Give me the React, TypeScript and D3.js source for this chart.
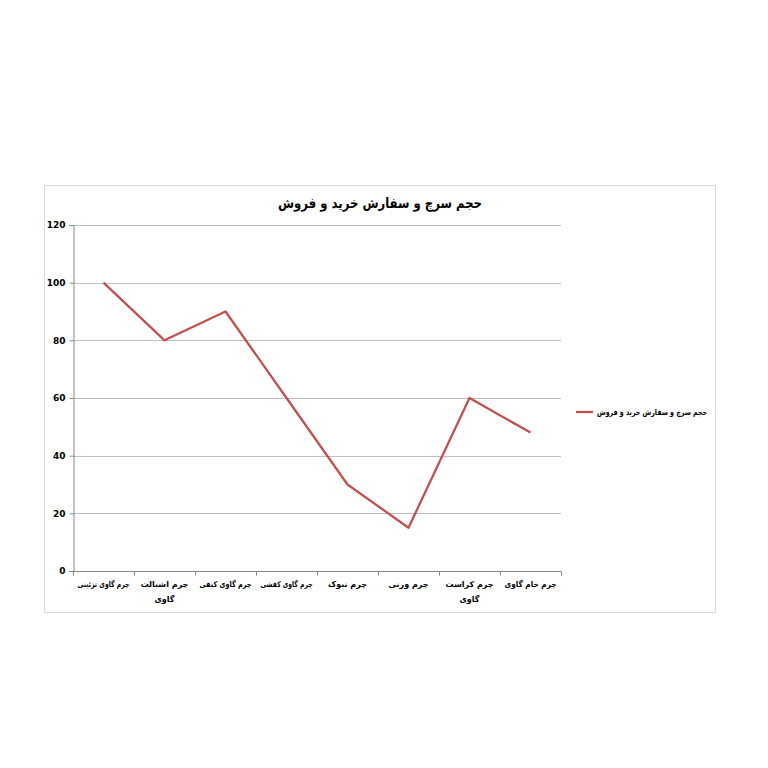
import React, { useEffect, useRef } from 'react';
import * as d3 from 'd3';

const title = 'حجم سرچ و سفارش خرید و فروش';
const seriesName = 'حجم سرچ و سفارش خرید و فروش';
const categories = [
    'چرم گاوی تزئینی',
    'چرم اشبالت\nگاوی',
    'چرم گاوی کیفی',
    'چرم گاوی کفشی',
    'چرم نبوک',
    'چرم ورنی',
    'چرم کراست\nگاوی',
    'چرم خام گاوی',
];
const values = [100, 80, 90, 60, 30, 15, 60, 48];
const yTicks = [0, 20, 40, 60, 80, 100, 120];

const FONT = '"DejaVu Sans", sans-serif';

// squeeze a text node horizontally if it is wider than maxW
function fit(node: SVGTextContentElement, maxW: number) {
    const w = node.getComputedTextLength();
    if (w > maxW) {
        node.setAttribute('textLength', String(maxW));
        node.setAttribute('lengthAdjust', 'spacingAndGlyphs');
    }
}

const App: React.FC = () => {
    const svgRef = useRef<SVGSVGElement>(null);

    useEffect(() => {
        if (!svgRef.current) return;
        const svg = d3.select(svgRef.current);
        svg.selectAll('*').remove();

        // chart frame
        svg.append('rect')
            .attr('x', 44.5).attr('y', 185.5)
            .attr('width', 671).attr('height', 427)
            .attr('fill', '#fff')
            .attr('stroke', '#d9d9d9');

        const left = 73, right = 561, top = 225, bottom = 571;

        const x = d3.scaleBand<string>()
            .domain(categories)
            .range([left, right]);
        const y = d3.scaleLinear()
            .domain([0, 120])
            .range([bottom, top]);

        // gridlines
        svg.append('g')
            .selectAll('line')
            .data(yTicks.filter(t => t > 0))
            .join('line')
            .attr('x1', left).attr('x2', right)
            .attr('y1', d => Math.round(y(d)) + 0.5)
            .attr('y2', d => Math.round(y(d)) + 0.5)
            .attr('stroke', '#bfbfbf')
            .attr('stroke-width', 1);

        // y axis
        const yAxis = svg.append('g')
            .attr('transform', `translate(${left + 0.5},0)`)
            .call(d3.axisLeft(y).tickValues(yTicks).tickSize(4).tickPadding(4));
        yAxis.select('.domain').attr('stroke', '#868686');
        yAxis.selectAll('.tick line').attr('stroke', '#868686');
        yAxis.selectAll('.tick text')
            .attr('fill', '#000')
            .style('font-family', FONT)
            .style('font-size', '9px')
            .style('font-weight', 'bold');

        // x axis
        const xAxis = svg.append('g')
            .attr('transform', `translate(0,${bottom + 0.5})`);
        xAxis.append('line')
            .attr('x1', left).attr('x2', right)
            .attr('stroke', '#868686');
        xAxis.selectAll('line.tk')
            .data(d3.range(categories.length + 1))
            .join('line')
            .attr('class', 'tk')
            .attr('x1', i => Math.round(left + i * x.step()) + 0.5)
            .attr('x2', i => Math.round(left + i * x.step()) + 0.5)
            .attr('y1', 0).attr('y2', 4)
            .attr('stroke', '#868686');

        categories.forEach(d => {
            const cx = x(d)! + x.bandwidth() / 2;
            d.split('\n').forEach((line, i) => {
                const t = xAxis.append('text')
                    .attr('text-anchor', 'middle')
                    .attr('x', cx)
                    .attr('y', 15 + i * 15)
                    .style('font-family', FONT)
                    .style('font-size', '8px')
                    .style('font-weight', 'bold')
                    .attr('fill', '#000')
                    .text(line);
                fit(t.node()!, 52);
            });
        });

        // series line
        const line = d3.line<number>()
            .x((_, i) => x(categories[i])! + x.bandwidth() / 2)
            .y(d => y(d));
        svg.append('path')
            .datum(values)
            .attr('d', line)
            .attr('fill', 'none')
            .attr('stroke', '#c0504d')
            .attr('stroke-width', 2.25)
            .attr('stroke-linejoin', 'round');

        // title
        const tt = svg.append('text')
            .attr('x', 380).attr('y', 208)
            .attr('text-anchor', 'middle')
            .style('font-family', FONT)
            .style('font-size', '14px')
            .style('font-weight', 'bold')
            .text(title);
        fit(tt.node()!, 204);

        // legend
        svg.append('line')
            .attr('x1', 576).attr('x2', 593)
            .attr('y1', 412).attr('y2', 412)
            .attr('stroke', '#c0504d')
            .attr('stroke-width', 2.25);
        const lt = svg.append('text')
            .attr('x', 597).attr('y', 415)
            .attr('text-anchor', 'start')
            .style('font-family', FONT)
            .style('font-size', '8px')
            .style('font-weight', 'bold')
            .text(seriesName);
        fit(lt.node()!, 110);
    }, []);

    return (
        <div style={{ position: 'absolute', left: 0, top: 0 }}>
            <svg ref={svgRef} width={768} height={768} style={{ display: 'block' }} />
        </div>
    );
};

export default App;
